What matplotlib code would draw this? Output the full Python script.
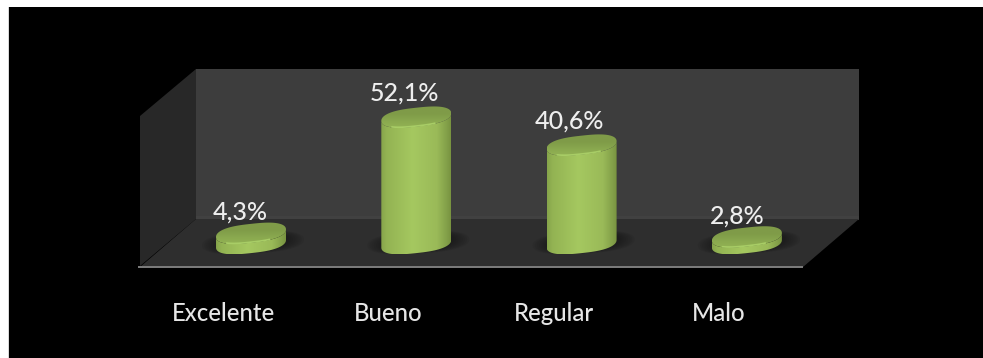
import numpy as np
import matplotlib
matplotlib.use("Agg")
import matplotlib.pyplot as plt
from matplotlib.colors import LinearSegmentedColormap
from matplotlib.patches import Polygon, Rectangle, PathPatch
from matplotlib.path import Path

# Data
categories = ["Excelente", "Bueno", "Regular", "Malo"]
values = [4.3, 52.1, 40.6, 2.8]
value_labels = ["4,3%", "52,1%", "40,6%", "2,8%"]

W, H = 983, 358
plt.rcParams['font.family'] = ['Lato', 'DejaVu Sans']

# scale of the data axes, in pixels
px_x = 165.3
px_y = 2.43
x0 = 251
y0 = 243.7

fig = plt.figure(figsize=(W / 100, H / 100), dpi=100, facecolor="white")

# Background: black panel and the 3D box, in pixel coordinates
bg = fig.add_axes([0, 0, 1, 1])
bg.set_xlim(0, W)
bg.set_ylim(H, 0)
bg.axis("off")
bg.add_patch(Rectangle((8, 7), W - 8, H - 7, color="black", lw=0))
bg.add_patch(Rectangle((8, 7), 1, H - 7, color="#d8d8d8", lw=0))
bg.add_patch(Rectangle((196, 69), 663, 150, color="#3d3d3d", lw=0))
bg.add_patch(Rectangle((196, 216), 663, 3.5, color="#414141", lw=0))
bg.add_patch(Polygon([(140, 116), (196, 69), (196, 219), (140, 266)], color="#282828", lw=0))
bg.add_patch(Polygon([(196, 219), (859, 219), (803, 267), (140, 267)], color="#2e2e2e", lw=0))
bg.add_patch(Rectangle((138, 265.8), 665, 2.6, color="#7a7a7a", lw=0))

# Data axes over the whole figure
ax = fig.add_axes([0, 0, 1, 1])
ax.patch.set_alpha(0)
ax.axis("off")
xlim = (-x0 / px_x, (W - x0) / px_x)
ylim = ((y0 - H) / px_y, y0 / px_y)

body_cmap = LinearSegmentedColormap.from_list("body", [
    (0, "#86a44b"), (0.08, "#93b353"), (0.45, "#a5c860"), (0.8, "#9aba58"), (0.95, "#819e48"), (1, "#78933f")])
top_cmap = LinearSegmentedColormap.from_list("top", [
    (0, "#93b354"), (0.3, "#8aa94f"), (0.65, "#7f9b48"), (1, "#809b49")])

# small per-label shifts so the labels sit where they do in the picture
label_dx = [-8, -8.5, -8.5, -7]
label_dy = [15.5, 17, 17, 15]


def ellipse(cx, val, a=35, b=9.4, s=3.8, n=100):
    t = np.linspace(0, 2 * np.pi, n)
    c = np.sign(np.cos(t)) * np.abs(np.cos(t)) ** 0.72
    d = np.sign(np.sin(t)) * np.abs(np.sin(t)) ** 0.9
    xs = cx + a * c / px_x
    ys = val + (s * c + b * d) / px_y
    return xs, ys


def fill_gradient(xs, ys, cmap, horizontal):
    path = Path(np.column_stack([xs, ys]))
    patch = PathPatch(path, transform=ax.transData, fc="none", ec="none")
    ax.add_patch(patch)
    grad = np.linspace(0, 1, 256)
    grad = grad[None, :] if horizontal else grad[:, None]
    im = ax.imshow(grad, cmap=cmap, aspect="auto", origin="lower", interpolation="bilinear",
                   extent=[xs.min(), xs.max(), ys.min(), ys.max()], zorder=3)
    im.set_clip_path(patch)


for i, val in enumerate(values):
    # floor shadow
    for k in range(10):
        xs, ys = ellipse(i + 2 / px_x, 0.5, a=51 - 2.2 * k, b=11 - 0.4 * k, s=3)
        ax.fill(xs, ys, color="#161616", alpha=0.11, lw=0, zorder=2)

    # body: lower half of base ellipse joined to the top ellipse
    xs, ys = ellipse(i, 0)
    xt, yt = ellipse(i, val)
    low = np.arange(50, 100)
    body_x = np.concatenate([xs[low], xt[low][::-1]])
    body_y = np.concatenate([ys[low], yt[low][::-1]])
    fill_gradient(body_x, body_y, body_cmap, True)

    # top face, then the bright arc on its front edge
    fill_gradient(xt, yt, top_cmap, False)
    arc = np.arange(64, 82)
    ax.plot(xt[arc], yt[arc] + 0.5 / px_y, color="#a8cd66", lw=1.2, solid_capstyle="round", zorder=4)

    ax.annotate(value_labels[i], (i, val), xytext=(label_dx[i], label_dy[i]), textcoords="offset points",
                ha="center", va="center", color="#eeeeee", fontsize=18, fontweight="medium", zorder=5)
    ax.annotate(categories[i], (i, 0), xytext=(-20, -50.5), textcoords="offset points",
                ha="center", va="center", color="#e6e6e6", fontsize=17.2, fontweight="medium", zorder=5)

ax.set_xlim(xlim)
ax.set_ylim(ylim)

plt.savefig("out.png", dpi=100, facecolor=fig.get_facecolor())
